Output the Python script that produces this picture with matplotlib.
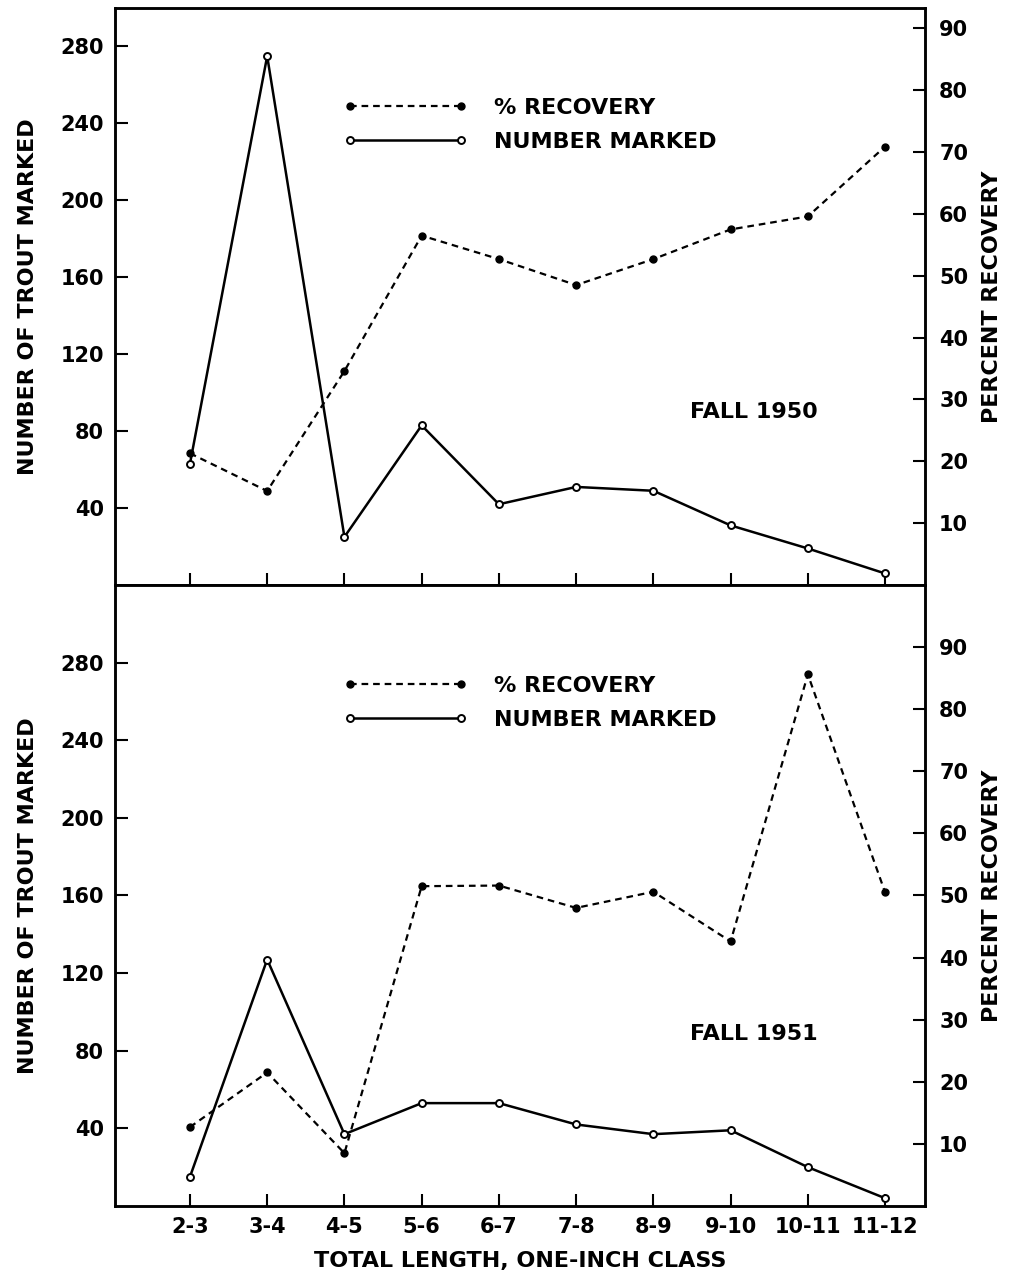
import matplotlib.pyplot as plt
from matplotlib.lines import Line2D

classes = ['2-3', '3-4', '4-5', '5-6', '6-7', '7-8', '8-9', '9-10', '10-11', '11-12']

marked_1950 = [63, 275, 25, 83, 42, 51, 49, 31, 19, 6]
recov_1950 = [21.3, 15.2, 34.6, 56.5, 52.7, 48.5, 52.7, 57.5, 59.6, 70.9]

marked_1951 = [15, 127, 37, 53, 53, 42, 37, 39, 20, 4]
recov_1951 = [12.7, 21.5, 8.5, 51.5, 51.6, 48.0, 50.6, 42.6, 85.6, 50.5]

left_ticks = [40, 80, 120, 160, 200, 240, 280]
right_ticks = [10, 20, 30, 40, 50, 60, 70, 80, 90]

plt.rcParams['font.family'] = ['DejaVu Sans']
plt.rcParams['font.weight'] = 'bold'
plt.rcParams['axes.labelweight'] = 'bold'
TFS = 15
LFS = 16

fig = plt.figure(figsize=(10.09, 12.74), dpi=100)
fig.patch.set_facecolor('w')


def panel(rect, marked, recov, ylim_l, ylim_r, label, label_xy, leg_anchor, show_x):
    ax = fig.add_axes(rect)
    ax2 = ax.twinx()
    x = range(len(classes))
    ax.plot(x, marked, '-', color='k', lw=1.8, marker='o', ms=5,
            mfc='w', mec='k', mew=1.4, zorder=3)
    ax2.plot(x, recov, '--', color='k', lw=1.6, dashes=(3, 2.2), marker='o',
             ms=5, mfc='k', mec='k', zorder=3)
    ax.set_xlim(-0.97, 9.52)
    ax.set_ylim(*ylim_l)
    ax2.set_ylim(*ylim_r)
    ax.set_xticks(list(x))
    ax.set_yticks(left_ticks)
    ax2.set_yticks(right_ticks)
    ax.tick_params(direction='in', length=9, width=1.5, labelsize=TFS, pad=8)
    ax2.tick_params(direction='in', length=9, width=1.5, labelsize=TFS, pad=10)
    if show_x:
        ax.set_xticklabels(classes)
        ax.set_xlabel('TOTAL LENGTH, ONE-INCH CLASS', fontsize=LFS, labelpad=10)
    else:
        ax.set_xticklabels([])
    for a in (ax, ax2):
        for s in a.spines.values():
            s.set_linewidth(1.8)
    ax.set_ylabel('NUMBER OF TROUT MARKED', fontsize=LFS, labelpad=16)
    ax2.set_ylabel('PERCENT RECOVERY', fontsize=LFS, labelpad=10)
    ax.text(label_xy[0], label_xy[1], label, transform=ax.transAxes,
            fontsize=LFS, ha='left', va='center')
    handles = [
        Line2D([], [], ls='--', dashes=(3, 2.2), color='k', lw=1.6,
               marker='o', ms=5, mfc='k', markevery=[0, -1]),
        Line2D([], [], ls='-', color='k', lw=1.8, marker='o', ms=5,
               mfc='w', mew=1.4, markevery=[0, -1]),
    ]
    ax.legend(handles, ['% RECOVERY', 'NUMBER MARKED'], frameon=False,
              loc='upper left', bbox_to_anchor=leg_anchor, fontsize=LFS,
              handlelength=5.6, handletextpad=1.2, labelspacing=0.62,
              numpoints=2)
    return ax


panel([0.114, 0.5408, 0.803, 0.4529], marked_1950, recov_1950,
      (0, 300), (0, 93.3), 'FALL 1950', (0.71, 0.30), (0.257, 0.879), False)
panel([0.114, 0.0534, 0.803, 0.4874], marked_1951, recov_1951,
      (0, 320), (0, 100), 'FALL 1951', (0.71, 0.277), (0.257, 0.886), True)

fig.savefig('out.png', dpi=100)
